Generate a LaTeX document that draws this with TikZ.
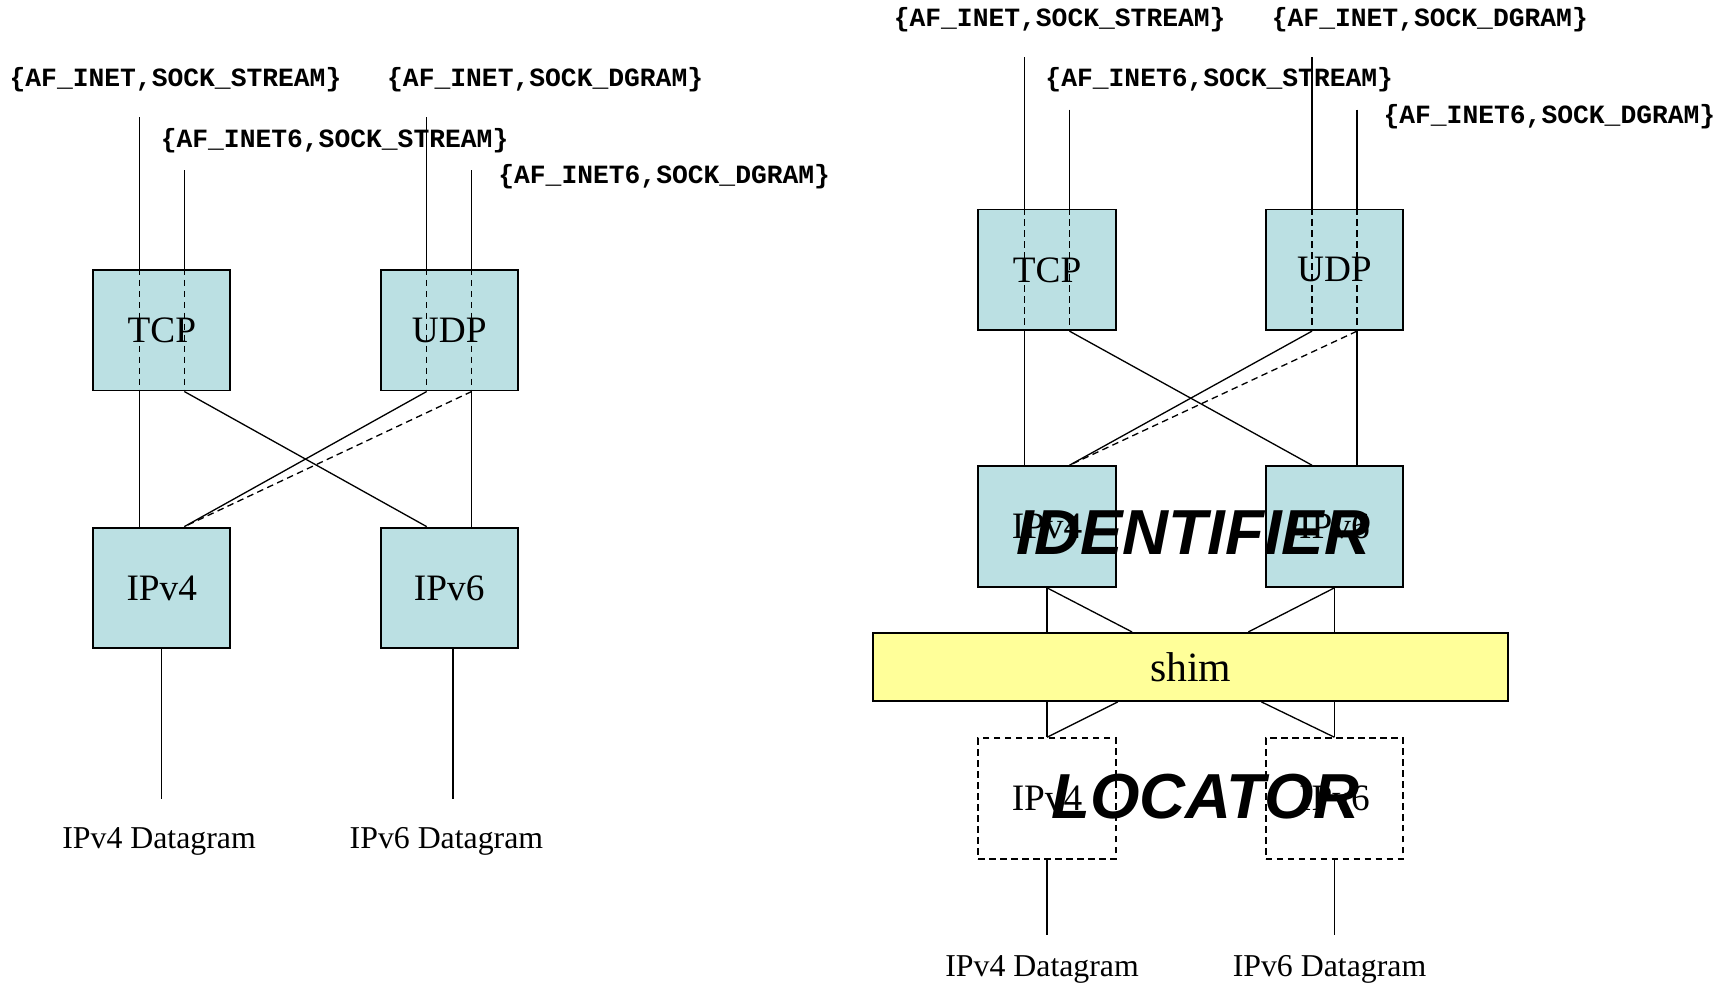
\documentclass[tikz,border=0pt]{standalone}
\usepackage{fontspec}
\setmainfont{Liberation Serif}
\newfontfamily\apifont{Liberation Mono}
\newfontfamily\tagfont{Liberation Sans}
\definecolor{protofill}{HTML}{BBE0E3}
\definecolor{shimfill}{HTML}{FFFF99}
\tikzset{
  layer/.style={draw, line width=0.9pt, fill=protofill, minimum width=62.5pt,
    minimum height=55pt, inner sep=0pt, font=\fontsize{17}{17}\selectfont},
  locbox/.style={layer, fill=none, dash pattern=on 3pt off 2pt},
  shimbox/.style={draw, line width=0.9pt, fill=shimfill, minimum width=289.5pt,
    minimum height=31pt, inner sep=0pt, font=\fontsize{19}{19}\selectfont},
  api/.style={font=\apifont\bfseries\fontsize{12}{12}\selectfont, inner sep=0pt},
  dgram/.style={font=\fontsize{14.5}{14.5}\selectfont, inner sep=0pt},
  tag/.style={font=\tagfont\bfseries\itshape\fontsize{29}{29}\selectfont, inner sep=0pt},
  wire/.style={line width=0.6pt},
  inbox/.style={wire, dash pattern=on 3pt off 2pt}
}
\begin{document}
\begin{tikzpicture}[x=0.5pt,y=-0.5pt]
\useasboundingbox (0,0) rectangle (1568,897);

% plain dual stack
\node [layer] (tcp) at (147.5,301) {TCP};
\node [layer] (udp) at (409.5,301) {UDP};
\node [layer] (ip4) at (147.5,536) {IPv4};
\node [layer] (ip6) at (409.5,536) {IPv6};
\node [api] (s4) at (160,73) {\{AF\_INET,SOCK\_STREAM\}};
\node [api] (d4) at (497,73) {\{AF\_INET,SOCK\_DGRAM\}};
\node [api] (s6) at (305,128) {\{AF\_INET6,SOCK\_STREAM\}};
\node [api] (d6) at (605.5,161) {\{AF\_INET6,SOCK\_DGRAM\}};
\coordinate (t1) at (127,107);
\coordinate (t2) at (168,155);
\coordinate (t3) at (389,107);
\coordinate (t4) at (430,155);
\foreach \t/\b in {t1/tcp,t2/tcp,t3/udp,t4/udp} {
  \draw [wire] (\t) -- (\t |- \b.north) ;
  \draw [inbox] (\t |- \b.north) -- (\t |- \b.south) ;
}
\draw [wire] (t1 |- tcp.south) -- (t1 |- ip4.north) ;
\draw [wire] (t2 |- tcp.south) -- (t3 |- ip6.north) ;
\draw [wire] (t3 |- udp.south) -- (t2 |- ip4.north) ;
\draw [wire] (t4 |- udp.south) -- (t4 |- ip6.north) ;
\draw [inbox] (t4 |- udp.south) -- (t2 |- ip4.north) ;
\node [dgram] (g4) at (145,767) {IPv4 Datagram};
\node [dgram] (g6) at (407,767) {IPv6 Datagram};
\coordinate (e4) at (147.5,728);
\coordinate (e6) at (413,728);
\draw [wire] (ip4.south) -- (e4) ;
\draw [wire] (e6 |- ip6.south) -- (e6) ;

% stack with the shim layer
\node [layer] (rtcp) at (954.5,246) {TCP};
\node [layer] (rudp) at (1216.5,246) {UDP};
\node [layer] (rip4) at (954.5,480) {IPv4};
\node [layer] (rip6) at (1216.5,480) {IPv6};
\node [shimbox] (shim) at (1085.5,608) {shim};
\node [locbox] (loc4) at (954.5,728) {IPv4};
\node [locbox] (loc6) at (1216.5,728) {IPv6};
\node [api] (rs4) at (966,18) {\{AF\_INET,SOCK\_STREAM\}};
\node [api] (rd4) at (1303.5,18) {\{AF\_INET,SOCK\_DGRAM\}};
\node [api] (rs6) at (1111.5,73) {\{AF\_INET6,SOCK\_STREAM\}};
\node [api] (rd6) at (1412.5,106) {\{AF\_INET6,SOCK\_DGRAM\}};
\coordinate (u1) at (934,52);
\coordinate (u2) at (975,100);
\coordinate (u3) at (1196,52);
\coordinate (u4) at (1237,100);
\foreach \t/\b in {u1/rtcp,u2/rtcp,u3/rudp,u4/rudp} {
  \draw [wire] (\t) -- (\t |- \b.north) ;
  \draw [inbox] (\t |- \b.north) -- (\t |- \b.south) ;
}
\draw [wire] (u1 |- rtcp.south) -- (u1 |- rip4.north) ;
\draw [wire] (u2 |- rtcp.south) -- (u3 |- rip6.north) ;
\draw [wire] (u3 |- rudp.south) -- (u2 |- rip4.north) ;
\draw [wire] (u4 |- rudp.south) -- (u4 |- rip6.north) ;
\draw [inbox] (u4 |- rudp.south) -- (u2 |- rip4.north) ;
% into and out of the shim
\draw [wire] (rip4.south) -- (rip4.south |- shim.north) ;
\draw [wire] (rip4.south) -- ([xshift=-26.75pt]shim.north) ;
\draw [wire] (rip6.south) -- (rip6.south |- shim.north) ;
\draw [wire] (rip6.south) -- ([xshift=26.25pt]shim.north) ;
\draw [wire] (loc4.north |- shim.south) -- (loc4.north) ;
\draw [wire] ([xshift=-33.25pt]shim.south) -- (loc4.north) ;
\draw [wire] (loc6.north |- shim.south) -- (loc6.north) ;
\draw [wire] ([xshift=32.25pt]shim.south) -- (loc6.north) ;
\node [dgram] (rg4) at (950,884) {IPv4 Datagram};
\node [dgram] (rg6) at (1212,884) {IPv6 Datagram};
\coordinate (f4) at (954.5,852);
\coordinate (f6) at (1216.5,852);
\draw [wire] (loc4.south) -- (f4) ;
\draw [wire] (loc6.south) -- (f6) ;
\node [tag] (ident) at (1088,486) {IDENTIFIER};
\node [tag] (locat) at (1099,726) {LOCATOR};
\end{tikzpicture}
\end{document}
